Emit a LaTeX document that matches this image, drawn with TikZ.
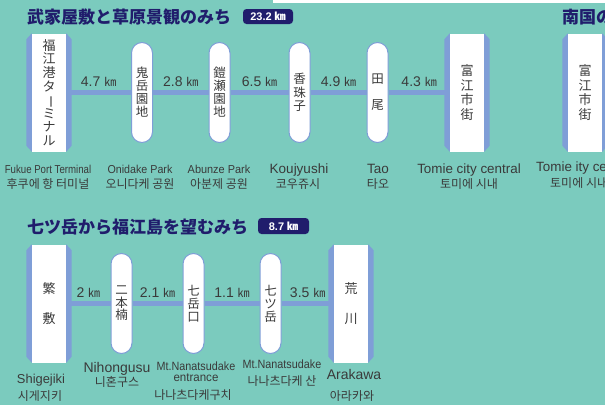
\documentclass[tikz,border=0pt]{standalone}
\usepackage{fontspec}
\usepackage{graphicx}
\setmainfont{Liberation Sans}
\newfontfamily\jpfont{Noto Sans CJK JP}
\newfontfamily\jptitle{Noto Sans CJK JP}
\newfontfamily\krfont{Noto Sans CJK KR}
\usetikzlibrary{shapes}
\usetikzlibrary{positioning}

\definecolor{bgteal}{HTML}{7BCBBE}
\definecolor{navy}{HTML}{201D6C}
\definecolor{band}{HTML}{7F9ED7}
\definecolor{ink}{HTML}{3A3A3A}

\newcommand\km[1][12]{{\jptitle\fontsize{#1}{#1}\selectfont ㎞}}
\newcommand\vbar{\rotatebox[origin=c]{-90}{ー}}
\newcommand\sidebands[1]{%
  \fill[band] (#1.north west) -- ++(-5.5,6) -- ([shift={(-5.5,-6)}]#1.south west) -- (#1.south west) -- cycle;
  \fill[band] (#1.north east) -- ++(5.5,6) -- ([shift={(5.5,-6)}]#1.south east) -- (#1.south east) -- cycle;}

\tikzset{
  terminal/.style={rectangle, fill=white, minimum width=34pt, minimum height=118pt,
    inner sep=0pt, align=center, text=ink, font=\jpfont\fontsize{13}{#1}\selectfont},
  terminal/.default=14,
  stop/.style={rectangle, draw=band, line width=1pt, fill=white, rounded corners=10.5pt,
    minimum width=21pt, minimum height=100pt, inner sep=0pt, align=center, text=ink,
    font=\jpfont\fontsize{12.5}{#1}\selectfont},
  stop/.default=13,
  route/.style={band, line width=5pt},
  dist/.style={midway, yshift=11pt, text=ink, inner sep=0pt, font=\fontsize{14}{14}\selectfont},
  title/.style={anchor=base west, inner sep=0pt, text=navy, font=\jptitle\bfseries\fontsize{17}{17}\selectfont},
  badge/.style={fill=navy, text=white, rounded corners=3.5pt, minimum width=50pt,
    minimum height=15pt, inner sep=0pt, font=\bfseries\fontsize{11}{11}\selectfont},
  en/.style={anchor=base, inner sep=0pt, text=ink, font=\fontsize{#1}{#1}\selectfont},
  kr/.style={anchor=base, inner sep=0pt, text=ink, font=\krfont\fontsize{12}{12}\selectfont},
}

\begin{document}
\begin{tikzpicture}[x=1pt, y=-1pt]
  \useasboundingbox (0,0) rectangle (605,405);
  \clip (0,0) rectangle (605,405);
  \fill[bgteal] (0,0) rectangle (605,405);
  \fill[white] (273,0) rectangle (605,3);

  % upper route
  \node[terminal=13.6] (fukue) at (49,92.5) {福\\江\\港\\タ\\\vbar\\ミ\\ナ\\ル};
  \node[stop] (oni) at (142,92.5) {鬼\\岳\\園\\地};
  \node[stop] (abunze) at (219.5,92.5) {鎧\\瀬\\園\\地};
  \node[stop=13.5] (kouj) at (299.5,92.5) {香\\珠\\子};
  \node[stop=26] (tao) at (377.5,92.5) {田\\尾};
  \node[terminal=14.7] (tomie) at (467,92.5) {富\\江\\市\\街};
  \node[terminal=14.7] (tomieb) at (585,92.5) {富\\江\\市\\街};

  % lower route
  \node[terminal=30] (shige) at (49,303.5) {繁\\敷};
  \node[stop=12.5] (nihon) at (121.5,303.5) {二\\本\\楠};
  \node[stop] (nanaguchi) at (193.5,303.5) {七\\岳\\口};
  \node[stop] (nanatsu) at (270.5,303.5) {七\\ツ\\岳};
  \node[terminal=30] (araka) at (351,303.5) {荒\\川};

  \foreach \t in {fukue,tomie,tomieb,shige,araka}
    \sidebands{\t};

  \foreach \a/\b/\kmval in {fukue/oni/4.7, oni/abunze/2.8, abunze/kouj/6.5, kouj/tao/4.9,
      tao/tomie/4.3, shige/nihon/2, nihon/nanaguchi/2.1, nanaguchi/nanatsu/1.1, nanatsu/araka/3.5}
    \draw[route] (\a) -- node[dist] {\kmval\ \km} (\b);

  % titles
  \node[title] (title1) at (27,23) {武家屋敷と草原景観のみち};
  \node[badge] (badge1) at (268,16.5) {23.2 \km[11]};
  \node[title] (title2) at (27,233) {七ツ岳から福江島を望むみち};
  \node[badge, minimum width=51pt, minimum height=16pt] (badge2) at (283.5,226) {8.7 \km[11]};
  \node[title] (title3) at (562,23) {南国の};

  % names below the stops
  \node[en=11.5] (fukueen) at (48,173) {\scalebox{.84}[1]{Fukue Port Terminal}};
  \node[kr] (fukuekr) at (48,188) {후쿠에 항 터미널};
  \node[en=11.5] (onien) at (140,173) {\scalebox{.93}[1]{Onidake Park}};
  \node[kr] (onikr) at (140,188) {오니다케 공원};
  \node[en=11.5] (abunzeen) at (219,173) {\scalebox{.95}[1]{Abunze Park}};
  \node[kr] (abunzekr) at (219,188) {아분제 공원};
  \node[en=13.5] (koujen) at (299,173) {Koujyushi};
  \node[kr] (koujkr) at (298,188) {코우쥬시};
  \node[en=13.5] (taoen) at (378,173) {Tao};
  \node[kr] (taokr) at (378,188) {타오};
  \node[en=13.4] (tomieen) at (469,173) {Tomie city central};
  \node[kr] (tomiekr) at (469,188) {토미에 시내};
  \node[en=13.4, anchor=base west] (tomieben) at (536,171) {Tomie ity central};
  \node[kr, anchor=base west] (tomiebkr) at (550,187) {토미에 시내};

  \node[en=12.9] (shigeen) at (41,383) {Shigejiki};
  \node[kr] (shigekr) at (40,400) {시게지키};
  \node[en=14] (nihonen) at (117,372) {Nihongusu};
  \node[kr] (nihonkr) at (117,386) {니혼구스};
  \node[en=12] (nanaguchien) at (196,370) {\scalebox{.9}[1]{Mt.Nanatsudake}};
  \node[en=12] (nanaguchien2) at (196,381) {\scalebox{.96}[1]{entrance}};
  \node[kr] (nanaguchikr) at (193,399) {나나츠다케구치};
  \node[en=12] (nanatsuen) at (282,368) {\scalebox{.9}[1]{Mt.Nanatsudake}};
  \node[kr] (nanatsukr) at (282,385) {나나츠다케 산};
  \node[en=14] (arakaen) at (354,379) {Arakawa};
  \node[kr] (arakakr) at (352,400) {아라카와};
\end{tikzpicture}
\end{document}
